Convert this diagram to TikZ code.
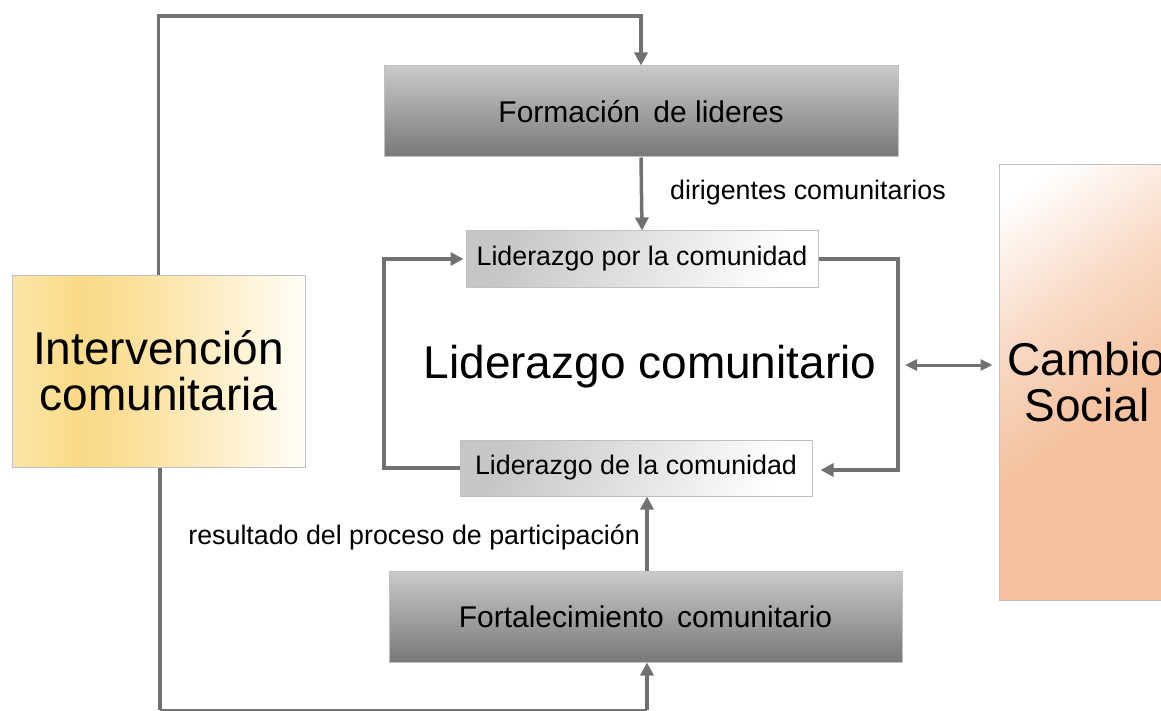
\documentclass[tikz,border=0pt]{standalone}
\usepackage{fontspec}
\setmainfont{Liberation Sans}
\usetikzlibrary{arrows.meta}
\definecolor{linegray}{RGB}{115,112,112}
\definecolor{boxborder}{RGB}{192,192,192}
\definecolor{gtop}{RGB}{202,202,202}
\definecolor{gbot}{RGB}{120,120,120}
\definecolor{yA}{RGB}{250,230,170}
\definecolor{yB}{RGB}{250,218,135}
\definecolor{yC}{RGB}{255,253,246}
\definecolor{peach}{RGB}{244,194,160}
\pgfdeclarehorizontalshading{intervshade}{100bp}{color(0bp)=(yA); color(25bp)=(yA); color(36bp)=(yB); color(44bp)=(yB!88!white); color(75bp)=(yC); color(100bp)=(yC)}
\pgfdeclareverticalshading{cambioshade}{100bp}{color(0bp)=(peach); color(45bp)=(peach); color(62bp)=(peach!60!white); color(80bp)=(white); color(100bp)=(white)}
\tikzset{
  graybox/.style={draw=boxborder, line width=1pt, top color=gtop, bottom color=gbot,
    minimum width=514pt, minimum height=91pt, inner sep=0pt, font=\fontsize{30}{34}\selectfont},
  lightbox/.style={draw=boxborder, line width=1pt, shading=axis, left color=gray!45, right color=white, shading angle=70,
    minimum width=352pt, minimum height=56pt, inner sep=0pt, font=\fontsize{26.8}{30}\selectfont},
  bigtext/.style={font=\fontsize{46}{48}\selectfont, align=center, inner sep=0pt},
  lbl/.style={font=\fontsize{26.8}{30}\selectfont, inner sep=0pt},
  conn/.style={draw=linegray, line width=3.5pt},
  thinconn/.style={draw=linegray, line width=2pt},
  tip/.style={-{Triangle[length=13pt,width=13pt]}},
}
\begin{document}
\begin{tikzpicture}[x=1pt,y=-1pt]
\useasboundingbox (0,0) rectangle (1161,711);
\begin{scope}
\clip (0,0) rectangle (1161,711);
% boxes
\node[graybox] (form) at (641,111.5) {Formación\, de lideres};
\node[lightbox] (lpor) at (642,259) {Liderazgo por la comunidad};
\node[lightbox] (lde) at (636,468) {Liderazgo de la comunidad};
\node[graybox, minimum width=513pt] (fort) at (645.5,616.5) {Fortalecimiento\, comunitario};
\node[draw=boxborder, line width=1pt, shading=intervshade, minimum width=293pt, minimum height=192pt,
  bigtext] (inter) at (158.5,371) {Intervención\\[-2pt]comunitaria};
\node[draw=boxborder, line width=1pt, shading=cambioshade, shading angle=35, minimum width=176pt, minimum height=435pt,
  bigtext] (cambio) at (1087,382.5) {Cambio\\[-2pt]Social};
\node[bigtext] (lc) at (650,367) {Liderazgo comunitario};
% labels
\node[lbl, anchor=west] (ldir) at (670,193) {dirigentes comunitarios};
\node[lbl, anchor=east] (lres) at (640,537) {resultado del proceso de participación};
% coordinates
\coordinate (t2) at (641,16);
\coordinate (b1) at (160,710);
\coordinate (b2) at (647,710);
\coordinate (r1) at (898,259);
\coordinate (r2) at (898,470);
\coordinate (l1) at (384,468);
\coordinate (l2) at (384,259);
\coordinate (d1) at (905,365);
% connectors
\draw[conn, tip] (inter.north) |- (t2) -- (form.north);
\draw[conn, tip] (form.south) -- (lpor.north);
\draw[conn, tip, shorten >=8pt] (lpor.east) -- (r1) -- (r2) -- (lde.east |- r2);
\draw[conn, tip, shorten >=2pt] (lde.west) -- (l1) -- (l2) -- (lpor.west);
\draw[conn, tip] (fort.north -| b2) -- (lde.south -| b2);
\draw[conn] (inter.south -| b1) -- (b1);
\draw[thinconn] (b1) -- (b2);
\draw[conn, tip] (b2) -- (fort.south -| b2);
\draw[draw=linegray, line width=3pt, {Triangle[length=12pt,width=11pt]}-{Triangle[length=12pt,width=11pt]}, shorten >=6pt] (d1) -- (cambio.west |- d1);
\end{scope}
\end{tikzpicture}
\end{document}
